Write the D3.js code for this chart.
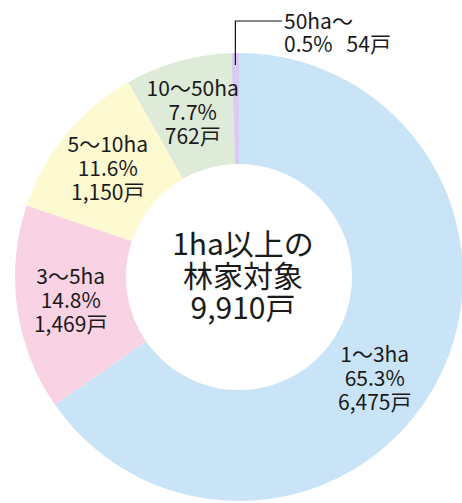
<!DOCTYPE html>
<html>
<head>
<meta charset="utf-8">
<script src="https://cdn.jsdelivr.net/npm/d3@7"></script>
<style>
  body { margin: 0; background: #fff; }
  text { font-family: "Noto Sans CJK JP", "Noto Sans", sans-serif; fill: #1a1a1a; }
</style>
</head>
<body>
<div id="chart"></div>
<script>
// chart data
const categories = ["1～3ha", "3～5ha", "5～10ha", "10～50ha", "50ha～"];
const households = [6475, 1469, 1150, 762, 54];
const percents = ["65.3%", "14.8%", "11.6%", "7.7%", "0.5%"];
const countLabels = ["6,475戸", "1,469戸", "1,150戸", "762戸", "54戸"];
const centerLines = ["1ha以上の", "林家対象", "9,910戸"];

const colors = ["#cae4f7", "#f9d3e3", "#fdfad2", "#dfebd9", "#d9cdef"];

const width = 462, height = 503;
const cx = 239, cy = 277;
const outerR = 224, innerR = 113;

const svg = d3.select("#chart")
  .append("svg")
  .attr("width", width)
  .attr("height", height);

const g = svg.append("g").attr("transform", `translate(${cx},${cy})`);

// pie clockwise from 12 o'clock, keeping data order
const pie = d3.pie().sort(null).value(d => d);
const arcs = pie(households);

const arc = d3.arc().innerRadius(innerR).outerRadius(outerR);

g.selectAll("path.slice")
  .data(arcs)
  .enter()
  .append("path")
  .attr("class", "slice")
  .attr("d", arc)
  .attr("fill", (d, i) => colors[i]);

// slice labels (the last, thin slice gets a leader line instead)
const labelR = 170;
const labelFrac = [0.54, 0.5, 0.5, 0.5];
const lineGap = 24;

arcs.slice(0, 4).forEach((a, i) => {
  const ang = a.startAngle + (a.endAngle - a.startAngle) * labelFrac[i];
  const x = labelR * Math.sin(ang);
  const y = -labelR * Math.cos(ang);
  const lines = [categories[i], percents[i], countLabels[i]];
  lines.forEach((s, k) => {
    g.append("text")
      .attr("text-anchor", "middle")
      .attr("font-size", 21)
      .attr("x", x)
      .attr("y", y + (k - 1) * lineGap + 7)
      .text(s);
  });
});

// leader for the 50ha～ slice
const small = arcs[4];
const midA = (small.startAngle + small.endAngle) / 2;
const lx = (outerR - 12) * Math.sin(midA);
const ly = -(outerR - 12) * Math.cos(midA);
g.append("path")
  .attr("d", `M${lx},${ly} V${-256} H${43}`)
  .attr("fill", "none")
  .attr("stroke", "#111")
  .attr("stroke-width", 1.2);

g.append("text")
  .attr("font-size", 21)
  .attr("x", 45).attr("y", -248)
  .text(categories[4]);
g.append("text")
  .attr("font-size", 21)
  .attr("x", 45).attr("y", -225)
  .text(percents[4] + "\u00a0\u00a0\u00a0" + countLabels[4]);

// center text
centerLines.forEach((s, k) => {
  g.append("text")
    .attr("text-anchor", "middle")
    .attr("font-size", 30)
    .attr("x", 4)
    .attr("y", (k - 1) * 32 + 10)
    .text(s);
});
</script>
</body>
</html>
